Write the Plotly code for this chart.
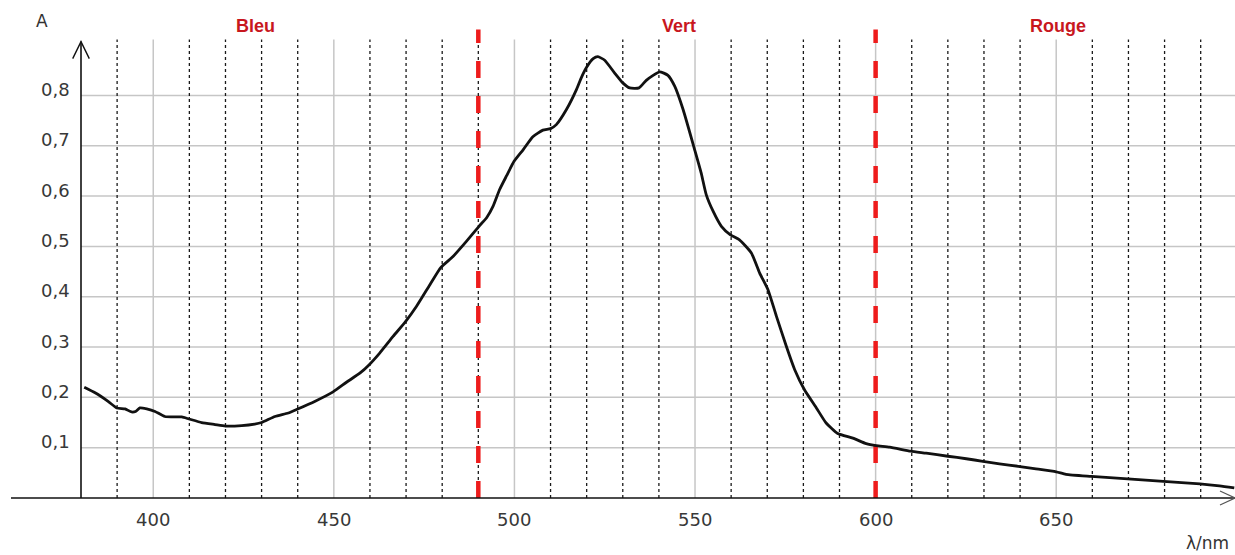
import plotly.graph_objects as go

# ---- data ----
wavelength = [380.9, 383.9, 387.5, 389.9, 392.2, 394.0, 395.1, 396.3, 398.2, 400.5,
              403.2, 407.9, 409.9, 413.4, 417.1, 420.0, 424.5, 428.1, 430.0, 433.7,
              437.4, 440.0, 444.7, 449.8, 453.5, 457.2, 459.8, 462.7, 466.4, 469.9,
              472.9, 476.6, 479.6, 483.0, 486.7, 490.2, 492.3, 494.1, 495.9, 497.8,
              499.9, 502.4, 505.1, 507.9, 510.0, 511.6, 514.4, 517.2, 518.5, 519.9,
              521.8, 523.1, 525.0, 527.7, 530.0, 531.9, 534.5, 536.5, 538.4, 540.2,
              542.5, 544.4, 546.7, 549.9, 551.7, 553.1, 555.0, 557.3, 559.8, 562.3,
              565.6, 567.9, 570.2, 572.5, 575.3, 577.6, 580.3, 583.6, 586.3, 589.5,
              593.7, 597.4, 600.2, 603.9, 609.7, 614.0, 620.0, 625.1, 629.7, 634.3,
              639.5, 644.4, 650.0, 652.7, 659.7, 669.8, 679.7, 689.8, 695.2, 699.3]
absorbance = [0.220, 0.209, 0.192, 0.179, 0.177, 0.171, 0.172, 0.179, 0.177, 0.172,
              0.162, 0.161, 0.157, 0.150, 0.146, 0.143, 0.144, 0.147, 0.150, 0.162,
              0.169, 0.177, 0.192, 0.211, 0.230, 0.248, 0.265, 0.288, 0.321, 0.351,
              0.381, 0.424, 0.458, 0.480, 0.510, 0.540, 0.557, 0.580, 0.613, 0.640,
              0.669, 0.692, 0.718, 0.731, 0.734, 0.742, 0.772, 0.812, 0.835, 0.855,
              0.873, 0.877, 0.870, 0.845, 0.825, 0.815, 0.815, 0.830, 0.840, 0.847,
              0.840, 0.818, 0.772, 0.692, 0.646, 0.603, 0.570, 0.540, 0.523, 0.513,
              0.487, 0.447, 0.414, 0.362, 0.301, 0.255, 0.215, 0.179, 0.149, 0.128,
              0.119, 0.108, 0.104, 0.101, 0.093, 0.089, 0.083, 0.078, 0.073, 0.068,
              0.063, 0.058, 0.052, 0.047, 0.043, 0.038, 0.033, 0.028, 0.024, 0.020]

x_major = [400, 450, 500, 550, 600, 650]
x_major_labels = ["400", "450", "500", "550", "600", "650"]
x_minor = [390, 410, 420, 430, 440, 460, 470, 480, 490, 510, 520, 530, 540,
           560, 570, 580, 590, 610, 620, 630, 640, 660, 670, 680, 690]
y_ticks = [0.1, 0.2, 0.3, 0.4, 0.5, 0.6, 0.7, 0.8]
y_labels = ["0,1", "0,2", "0,3", "0,4", "0,5", "0,6", "0,7", "0,8"]
boundaries = [490, 600]
regions = ["Bleu", "Vert", "Rouge"]
region_pos = [428.2, 545.6, 650.5]

X0, X1 = 380, 699.5
Y0, Y1 = 0, 0.94
grid_top = 0.911
axis_top = 0.907
red_top = 0.931

def px(x):
    return (x - X0) / (X1 - X0)

def py(y):
    return (y - Y0) / (Y1 - Y0)

fig = go.Figure()
fig.add_trace(go.Scatter(x=wavelength, y=absorbance, mode="lines",
                         line=dict(color="#111111", width=2.8, shape="spline", smoothing=0.5),
                         hoverinfo="skip", showlegend=False))

shapes = []
for v in y_ticks:
    shapes.append(dict(type="line", xref="x", yref="y", x0=X0, x1=X1, y0=v, y1=v,
                       line=dict(color="#c6c6c6", width=1.5), layer="below"))
for v in x_major:
    shapes.append(dict(type="line", xref="x", yref="y", x0=v, x1=v, y0=0, y1=grid_top,
                       line=dict(color="#c6c6c6", width=1.5), layer="below"))
for v in x_minor:
    shapes.append(dict(type="line", xref="x", yref="y", x0=v, x1=v, y0=0, y1=grid_top,
                       line=dict(color="#1a1a1a", width=1.3, dash="dot"), layer="below"))
for v in boundaries:
    shapes.append(dict(type="line", xref="x", yref="y", x0=v, x1=v, y0=0, y1=red_top,
                       line=dict(color="#ee1c1c", width=4.5, dash="17px,18px"), layer="below"))

# axes drawn as paper shapes (not clipped)
left_ext = -70 / 1154
shapes.append(dict(type="line", xref="paper", yref="paper", x0=left_ext, x1=1.0, y0=0, y1=0,
                   line=dict(color="#111111", width=1.6)))
shapes.append(dict(type="line", xref="paper", yref="paper", x0=0, x1=0, y0=0, y1=py(axis_top),
                   line=dict(color="#111111", width=1.6)))
# arrow heads
ax_dx = 8.3 / 1154
ax_dy = 17 / 473
tip_y = py(axis_top)
shapes.append(dict(type="path", xref="paper", yref="paper",
                   path=f"M {-ax_dx},{tip_y - ax_dy} L 0,{tip_y} L {ax_dx},{tip_y - ax_dy}",
                   line=dict(color="#111111", width=1.4)))
hx = 15 / 1154
hy = 7 / 473
shapes.append(dict(type="path", xref="paper", yref="paper",
                   path=f"M {1 - hx},{hy} L 1,0 L {1 - hx},{-hy}",
                   line=dict(color="#555555", width=1.2)))

annotations = []
tick_font = dict(family="DejaVu Sans", size=18, color="#383838")
for v, t in zip(y_ticks, y_labels):
    annotations.append(dict(x=-25.5 / 1154, xref="paper", y=v, yref="y", text=t,
                            showarrow=False, xanchor="center", yanchor="middle", yshift=6,
                            font=tick_font))
for v, t in zip(x_major, x_major_labels):
    annotations.append(dict(x=v, xref="x", y=0, yref="paper", text=t,
                            showarrow=False, xanchor="center", yanchor="middle", yshift=-21,
                            font=tick_font))
for t, xp in zip(regions, region_pos):
    annotations.append(dict(x=xp, xref="x", y=0.998, yref="paper", text=f"<b>{t}</b>",
                            showarrow=False, xanchor="center", yanchor="middle",
                            font=dict(family="Liberation Sans", size=18, color="#c8171e")))
annotations.append(dict(x=-39 / 1154, xref="paper", y=(477) / 473, yref="paper", text="A",
                        showarrow=False, xanchor="center", yanchor="middle",
                        font=dict(family="DejaVu Sans", size=17, color="#333333")))
annotations.append(dict(x=(1207 - 81) / 1154, xref="paper", y=-45 / 473, yref="paper",
                        text="λ/nm", showarrow=False, xanchor="center", yanchor="middle",
                        font=dict(family="DejaVu Sans", size=17, color="#333333")))

fig.update_layout(
    width=1235, height=555,
    margin=dict(l=81, r=0, t=25, b=57),
    paper_bgcolor="white", plot_bgcolor="white",
    xaxis=dict(range=[X0, X1], showgrid=False, zeroline=False, showticklabels=False,
               showline=False, ticks=""),
    yaxis=dict(range=[Y0, Y1], showgrid=False, zeroline=False, showticklabels=False,
               showline=False, ticks=""),
    shapes=shapes, annotations=annotations, showlegend=False,
)

fig.write_html("out.html")
